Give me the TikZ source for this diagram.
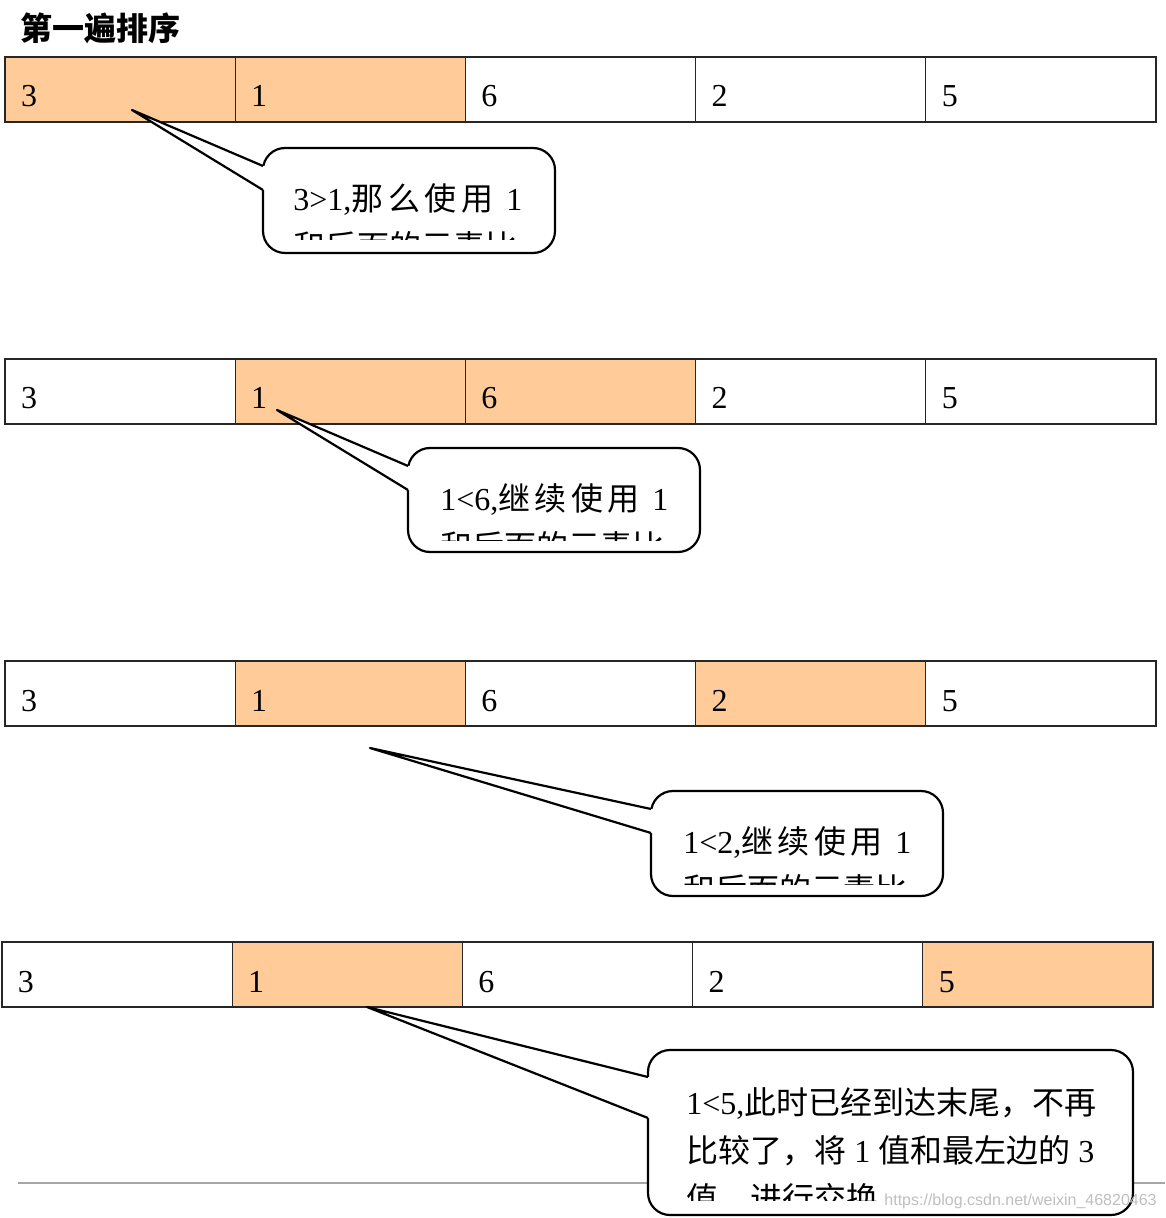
\documentclass[tikz,border=0pt]{standalone}
\usepackage{fontspec}
\setmainfont{Liberation Serif}
\newfontfamily\zhfont{Noto Sans CJK SC}
\newfontfamily\wmfont{Liberation Sans}
\newcommand{\zh}[1]{{\zhfont #1}}
\usetikzlibrary{positioning}
\definecolor{cellorange}{HTML}{FFCC99}
\definecolor{rulegray}{HTML}{A6A6A6}
\tikzset{
    cell/.style={draw=black!85, line width=0.6pt, outer sep=0pt, inner xsep=8pt, inner ysep=0pt,
        text width=99.1pt, align=left, minimum height=32.5pt, text height=17.5pt, text depth=0pt,
        font=\fontsize{16}{19}\selectfont},
    hot/.style={cell, fill=cellorange},
    bubble/.style={draw, line width=1.1pt, fill=white, rounded corners=11pt, anchor=north west, outer sep=0pt},
    say/.style={anchor=north west, inner sep=0pt, align=left, font=\fontsize{16}{24}\selectfont},
    pointer/.style={line width=1.1pt, line join=round},
}
\begin{document}
\begin{tikzpicture}[x=0.5pt,y=-0.5pt]
        \useasboundingbox (0,0) rectangle (1165,1218);
        \node[anchor=north west, inner sep=0pt, font=\fontsize{16}{19}\selectfont\zhfont\bfseries] (title) at (20,12) {第一遍排序};

        \node[hot, anchor=north west] (A1) at (5,57) {3};
        \node[hot, right=0pt of A1] (A2) {1};
        \node[cell, right=0pt of A2] (A3) {6};
        \node[cell, right=0pt of A3] (A4) {2};
        \node[cell, right=0pt of A4] (A5) {5};

        \node[cell, anchor=north west] (B1) at (5,359) {3};
        \node[hot, right=0pt of B1] (B2) {1};
        \node[hot, right=0pt of B2] (B3) {6};
        \node[cell, right=0pt of B3] (B4) {2};
        \node[cell, right=0pt of B4] (B5) {5};

        \node[cell, anchor=north west] (C1) at (5,661) {3};
        \node[hot, right=0pt of C1] (C2) {1};
        \node[cell, right=0pt of C2] (C3) {6};
        \node[hot, right=0pt of C3] (C4) {2};
        \node[cell, right=0pt of C4] (C5) {5};

        \node[cell, anchor=north west] (D1) at (2,942) {3};
        \node[hot, right=0pt of D1] (D2) {1};
        \node[cell, right=0pt of D2] (D3) {6};
        \node[cell, right=0pt of D3] (D4) {2};
        \node[hot, right=0pt of D4] (D5) {5};

        \draw[rulegray, line width=1pt] (18,1183) -- (1165,1183);

        \node[bubble, minimum width=146pt, minimum height=52.5pt] (K1) at (263,148) {};
        \coordinate (T1) at (132,110);
        \coordinate (U1) at (263,166);
        \coordinate (L1) at (263,190);
        \fill[white] (U1) -- (T1) -- (L1) -- ++(4,0) -- ++(0,-24) -- cycle;
        \draw[pointer] (U1) -- (T1) -- (L1);
        \begin{scope}
            \clip (K1.north west) rectangle ([yshift=6.5pt]K1.south east);
            \node[say] (S1) at (293,183) {\makebox[114.5pt][s]{3>1,\zh{那\hfill 么\hfill 使\hfill 用}\hfill\ 1}\\ \zh{和后面的元素比}};
        \end{scope}

        \node[bubble, minimum width=146pt, minimum height=52pt] (K2) at (408,448) {};
        \coordinate (T2) at (277,410);
        \coordinate (U2) at (408,466);
        \coordinate (L2) at (408,490);
        \fill[white] (U2) -- (T2) -- (L2) -- ++(4,0) -- ++(0,-24) -- cycle;
        \draw[pointer] (U2) -- (T2) -- (L2);
        \begin{scope}
            \clip (K2.north west) rectangle ([yshift=6pt]K2.south east);
            \node[say] (S2) at (440,483) {\makebox[114pt][s]{1<6,\zh{继\hfill 续\hfill 使\hfill 用}\hfill\ 1}\\ \zh{和后面的元素比}};
        \end{scope}

        \node[bubble, minimum width=146pt, minimum height=52.5pt] (K3) at (651,791) {};
        \coordinate (T3) at (370,748);
        \coordinate (U3) at (651,809);
        \coordinate (L3) at (651,833);
        \fill[white] (U3) -- (T3) -- (L3) -- ++(4,0) -- ++(0,-24) -- cycle;
        \draw[pointer] (U3) -- (T3) -- (L3);
        \begin{scope}
            \clip (K3.north west) rectangle ([yshift=6pt]K3.south east);
            \node[say] (S3) at (683,826) {\makebox[114pt][s]{1<2,\zh{继\hfill 续\hfill 使\hfill 用}\hfill\ 1}\\ \zh{和后面的元素比}};
        \end{scope}

        \node[bubble, minimum width=242.5pt, minimum height=82.5pt] (K4) at (648,1050) {};
        \coordinate (T4) at (367,1007);
        \coordinate (U4) at (648,1077);
        \coordinate (L4) at (648,1118);
        \fill[white] (U4) -- (T4) -- (L4) -- ++(4,0) -- ++(0,-41) -- cycle;
        \draw[pointer] (U4) -- (T4) -- (L4);
        \begin{scope}
            \clip (K4.north west) rectangle ([yshift=7.5pt]K4.south east);
            \node[say] (S4) at (686,1087) {\makebox[204.5pt][s]{1<5,\zh{此\hfill 时\hfill 已\hfill 经\hfill 到\hfill 达\hfill 末\hfill 尾\hfill ，\hfill 不\hfill 再}}\\
                \makebox[204pt][s]{\zh{比较了，将} 1 \zh{值和最左边的} 3}\\ \zh{值，进行交换}};
        \end{scope}

        \node[anchor=base east, inner sep=0pt, text=black!25, font=\fontsize{8}{9.6}\selectfont\wmfont] (mark) at (1157,1205) {https://blog.csdn.net/weixin\_46820463};
\end{tikzpicture}
\end{document}
